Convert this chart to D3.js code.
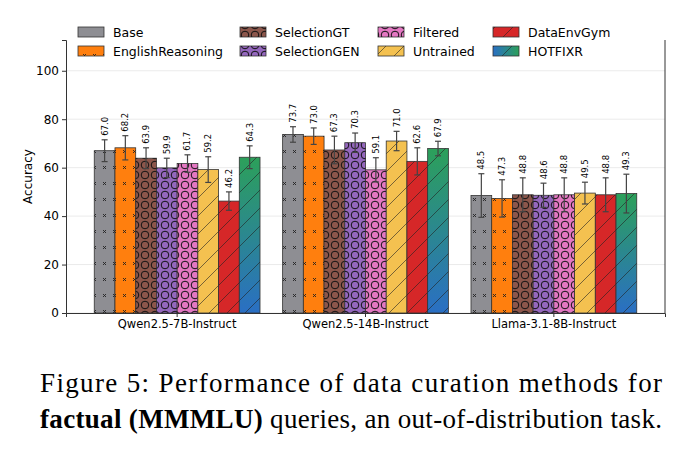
<!DOCTYPE html><html><head><script src="https://cdn.jsdelivr.net/npm/d3@7"></script>
<style>body{margin:0;background:#fff}</style></head><body><svg id="c" width="686" height="451"></svg>
<script>
const models=["Qwen2.5-7B-Instruct","Qwen2.5-14B-Instruct","Llama-3.1-8B-Instruct"];
const methods=["Base","EnglishReasoning","SelectionGT","SelectionGEN","Filtered","Untrained","DataEnvGym","HOTFIXR"];
const values=[[67.0,68.2,63.9,59.9,61.7,59.2,46.2,64.3],[73.7,73.0,67.3,70.3,59.1,71.0,62.6,67.9],[48.5,47.3,48.8,48.6,48.8,49.5,48.8,49.3]];
const errors=[[4.5,5,4.3,4,3.6,5.3,3.8,4.7],[3.2,3.4,5.7,4,5,4,5.6,3],[9,7.7,7,5,7,4.5,7,8]];
const yTicks=[0,20,40,60,80,100];
const colors=["#8e8e93","#ff7f0e","#8c564b","#9467bd","#e377c2","#f4c150","#d62728","url(#grad)"];
const pats=["x","x","o","o","o","/","/","/"];
const svg=d3.select("#c"),font="DejaVu Sans, sans-serif";
const defs=svg.append("defs");
const g1=defs.append("linearGradient").attr("id","grad").attr("x1",0).attr("y1",0).attr("x2",0).attr("y2",1);
g1.append("stop").attr("offset",0).attr("stop-color","#2ca05a");g1.append("stop").attr("offset",1).attr("stop-color","#2a6fc4");
const g2=defs.append("linearGradient").attr("id","gradL").attr("x1",0).attr("y1",0).attr("x2",1).attr("y2",0);
g2.append("stop").attr("offset",0).attr("stop-color","#2a6fc4");g2.append("stop").attr("offset",1).attr("stop-color","#2ca05a");
function mkPat(id,t){const p=defs.append("pattern").attr("id",id).attr("patternUnits","userSpaceOnUse");
 if(t=="x"){p.attr("width",10).attr("height",16);p.append("path").attr("d","M3,6l3,3M6,6l-3,3").attr("stroke","#222").attr("stroke-width",0.9);}
 else if(t=="o"){p.attr("width",10).attr("height",10);p.append("circle").attr("cx",5).attr("cy",5).attr("r",3.8).attr("fill","none").attr("stroke","#111").attr("stroke-width",1);}
 else {p.attr("width",18).attr("height",18);p.append("path").attr("d","M0,18L18,0M-2,2L2,-2M16,20L20,16").attr("stroke","#222").attr("stroke-width",0.6);}}
mkPat("px","x");mkPat("po","o");mkPat("ps","/");
const L=66,R=665,T=40,B=313;
const y=d3.scaleLinear().domain([0,112.7]).range([B,T]);
const x0=d3.scaleBand().domain(models).range([L,R]).paddingInner(0.12).paddingOuter(0.15);
const x1=d3.scaleBand().domain(methods).range([0,x0.bandwidth()]);
svg.append("g").selectAll("line").data(yTicks).join("line").attr("x1",L).attr("x2",R).attr("y1",d=>y(d)).attr("y2",d=>y(d)).attr("stroke","#ebebeb");
const ya=svg.append("g").attr("transform",`translate(${L},0)`).call(d3.axisLeft(y).tickValues(yTicks).tickSize(4));
ya.selectAll("text").attr("font-family",font).attr("font-size",12).attr("fill","#000");
const xa=svg.append("g").attr("transform",`translate(0,${B})`).call(d3.axisBottom(x0).tickSize(4));
xa.selectAll("text").attr("font-family",font).attr("font-size",11.5).attr("fill","#000");
[ya,xa].forEach(a=>a.selectAll(".domain,line").attr("stroke","#333"));
svg.append("line").attr("x1",R).attr("x2",R).attr("y1",T).attr("y2",B).attr("stroke","#333");
svg.append("text").attr("transform",`translate(32,${(T+B)/2})rotate(-90)`).attr("text-anchor","middle").attr("font-family",font).attr("font-size",12).text("Accuracy");
const pid={x:"url(#px)",o:"url(#po)","/":"url(#ps)"};
models.forEach((m,gi)=>{methods.forEach((me,i)=>{
 const v=values[gi][i],e=errors[gi][i],bx=x0(m)+x1(me),w=x1.bandwidth();
 svg.append("rect").attr("x",bx).attr("y",y(v)).attr("width",w).attr("height",B-y(v)).attr("fill",colors[i]).attr("stroke","#333").attr("stroke-width",0.8);
 svg.append("rect").attr("x",bx).attr("y",y(v)).attr("width",w).attr("height",B-y(v)).attr("fill",pid[pats[i]]);
 const cx=bx+w/2;
 svg.append("line").attr("x1",cx).attr("x2",cx).attr("y1",y(v-e)).attr("y2",y(v+e)).attr("stroke","#444").attr("stroke-width",1.2);
 [v-e,v+e].forEach(t=>svg.append("line").attr("x1",cx-3).attr("x2",cx+3).attr("y1",y(t)).attr("y2",y(t)).attr("stroke","#444").attr("stroke-width",1.2));
 svg.append("text").attr("transform",`translate(${cx+3},${y(v+e)-4})rotate(-90)`).attr("font-family",font).attr("font-size",8.5).text(v.toFixed(1));
});});
const lx=[78,240,378,493];
methods.forEach((me,i)=>{const c=Math.floor(i/2),r=i%2,xx=lx[c],yy=27+r*19;
 const f=i==7?"url(#gradL)":colors[i];
 svg.append("rect").attr("x",xx).attr("y",yy).attr("width",26).attr("height",10).attr("fill",f).attr("stroke","#333").attr("stroke-width",0.8);
 svg.append("rect").attr("x",xx).attr("y",yy).attr("width",26).attr("height",10).attr("fill",pid[pats[i]]);
 svg.append("text").attr("x",xx+35).attr("y",yy+9.5).attr("font-family",font).attr("font-size",12.5).text(me);});
const cap=svg.append("g").attr("font-family","Liberation Serif, Times New Roman, serif").attr("font-size",27);
cap.append("text").attr("x",40).attr("y",392).attr("textLength",622).text("Figure 5: Performance of data curation methods for");
const t2=cap.append("text").attr("x",40).attr("y",428).attr("textLength",622);
t2.append("tspan").attr("font-weight","bold").text("factual (MMMLU)");t2.append("tspan").text(" queries, an out-of-distribution task.");
</script></body></html>
